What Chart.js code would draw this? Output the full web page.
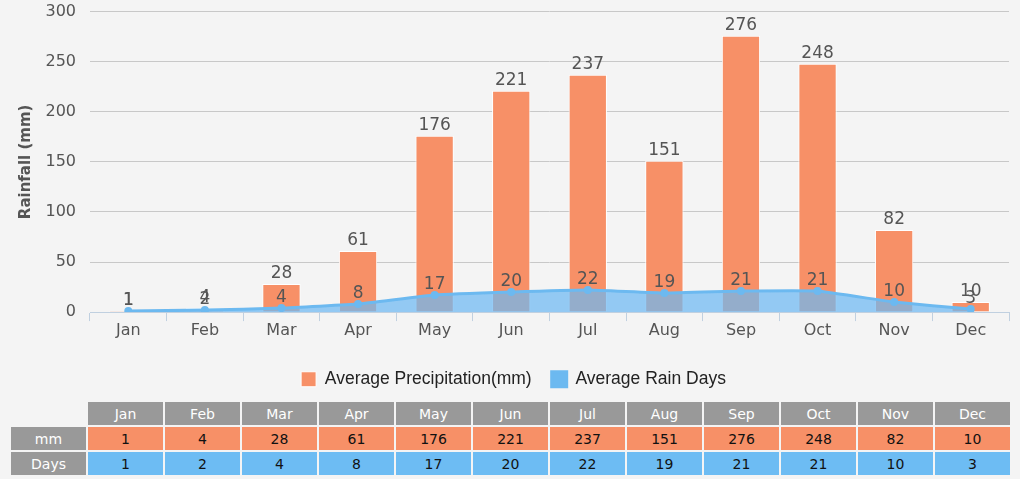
<!DOCTYPE html>
<html><head><meta charset="utf-8">
<script src="https://cdn.jsdelivr.net/npm/chart.js@4"></script>
<style>
html,body{margin:0;padding:0;background:#f4f4f4;width:1020px;height:479px;overflow:hidden;}
#wrap{position:absolute;left:0;top:-12px;width:1020px;height:410px;}
table{position:absolute;left:9px;top:400px;width:1003px;border-spacing:2px;table-layout:fixed;font-family:"DejaVu Sans",Verdana,sans-serif;font-size:14px;}
td{height:23px;padding:0;text-align:center;}
td.h{background:#999;color:#fff;}
td.m{background:#f79067;color:#111;}
td.d{background:#6dbcf3;color:#111;}
</style></head><body>
<div id="wrap"><canvas id="c"></canvas></div>
<table id="t"></table>
<script>
const months = ["Jan","Feb","Mar","Apr","May","Jun","Jul","Aug","Sep","Oct","Nov","Dec"];
const precipitation = [1,4,28,61,176,221,237,151,276,248,82,10];
const rainDays = [1,2,4,8,17,20,22,19,21,21,10,3];
const yTicks = [0,50,100,150,200,250,300];

// table
const t = document.getElementById('t');
let h = '<colgroup><col style="width:75px">' + months.map(()=>'<col>').join('') + '</colgroup>';
h += '<tr><td></td>' + months.map(m=>'<td class="h">'+m+'</td>').join('') + '</tr>';
h += '<tr><td class="h">mm</td>' + precipitation.map(v=>'<td class="m">'+v+'</td>').join('') + '</tr>';
h += '<tr><td class="h">Days</td>' + rainDays.map(v=>'<td class="d">'+v+'</td>').join('') + '</tr>';
t.innerHTML = h;

const labelPlugin = {
  id:'vlabels',
  afterLayout(chart){
    if (chart.legend){ chart.legend.left += 9; chart.legend.right += 9; }
  },
  afterDatasetsDraw(chart){
    const ctx = chart.ctx;
    ctx.save();
    ctx.font = '17px "DejaVu Sans", Verdana, sans-serif';
    ctx.fillStyle = '#555';
    ctx.textAlign = 'center';
    ctx.textBaseline = 'bottom';
    chart.data.datasets.forEach((ds,i)=>{
      const meta = chart.getDatasetMeta(i);
      meta.data.forEach((el,j)=>{
        ctx.fillText(String(ds.data[j]), el.x, el.y - 2);
      });
    });
    ctx.restore();
  }
};

new Chart(document.getElementById('c'), {
  data:{
    labels: months,
    datasets:[
      {type:'line', label:'Average Rain Days', data: rainDays, borderColor:'#6cb9f0', backgroundColor:'#6cb9f0',
       fill:{target:'origin', above:'rgba(110,185,242,0.72)'}, borderWidth:3, pointRadius:4, pointBackgroundColor:'#6cb9f0', pointBorderWidth:0, tension:0.1, order:0},
      {type:'bar', label:'Average Precipitation(mm)', data: precipitation, backgroundColor:'#f79067', borderColor:'#ffffff', borderWidth:1, barPercentage:0.5, categoryPercentage:1.0, order:1}
    ]
  },
  options:{
    responsive:true, maintainAspectRatio:false, animation:false,
    layout:{padding:{top:0,right:11,left:0,bottom:0}},
    plugins:{
      legend:{position:'bottom', reverse:true,
        title:{display:true, text:'', font:{size:1}, padding:{top:0, bottom:9}},
        labels:{boxWidth:15, boxHeight:15, padding:20, color:'#222', font:{family:'"Liberation Sans", Arial, sans-serif', size:17.5}}},
      tooltip:{enabled:false}
    },
    scales:{
      x:{offset:true, grid:{display:true, drawOnChartArea:false, offset:true, tickLength:9, color:'#c0d0e0'}, border:{color:'#c0d0e0'},
         ticks:{color:'#555', padding:0, font:{family:'"DejaVu Sans", Verdana, sans-serif', size:16}}},
      y:{min:0, max:300, afterBuildTicks(s){s.ticks = yTicks.map(v=>({value:v}));}, afterFit(s){s.width = 90;},
         grid:{color:'#c8c8c8', drawTicks:false}, border:{display:false},
         ticks:{color:'#555', padding:14, font:{family:'"DejaVu Sans", Verdana, sans-serif', size:16}},
         title:{display:true, text:'Rainfall (mm)', color:'#555', padding:{top:17, bottom:4}, font:{family:'"DejaVu Sans", Verdana, sans-serif', size:15, weight:'bold'}}}
    }
  },
  plugins:[labelPlugin]
});
</script>
</body></html>
